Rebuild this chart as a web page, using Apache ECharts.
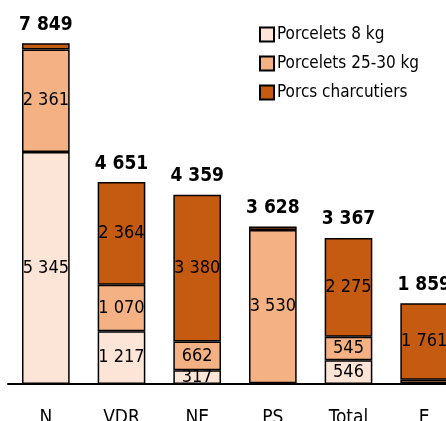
<!DOCTYPE html>
<html>
<head>
<meta charset="utf-8">
<script src="https://cdn.jsdelivr.net/npm/echarts@6/dist/echarts.min.js"></script>
<style>
html, body { margin: 0; padding: 0; background: #fff; }
#chart { width: 446px; height: 421px; }
</style>
</head>
<body>
<div id="chart"></div>
<script>
// régions et effectifs (têtes)
var regions = ['N', 'VDR', 'NE', 'PS', 'Total', 'E'];
var porcelets8 = [5345, 1217, 317, 15, 546, 20];
var porcelets25 = [2361, 1070, 662, 3530, 545, 78];
var porcsCharc = [143, 2364, 3380, 83, 2275, 1761];
var totals = [7849, 4651, 4359, 3628, 3367, 1859];

var FONT = '"DejaVu Sans Condensed", sans-serif';

function fmt(v) {
        return String(v).replace(/\B(?=(\d{3})+(?!\d))/g, ' ');
}

// on masque les étiquettes des segments trop fins
function withLabels(arr, minVal) {
        return arr.map(function (v) {
                return { value: v, label: { show: v >= minVal } };
        });
}

var chart = echarts.init(document.getElementById('chart'));

var insideLabel = {
        show: true,
        position: 'inside',
        color: '#000',
        fontFamily: FONT,
        fontSize: 18,
        formatter: function (p) { return fmt(p.value); }
};

function barStyle(c) {
        return { color: c, borderColor: '#000', borderWidth: 1.5 };
}

var option = {
        animation: false,
        grid: { left: 8, top: 2, width: 454, height: 382, outerBoundsMode: 'none', containLabel: false },
        legend: {
                data: ['Porcelets 8 kg', 'Porcelets 25-30 kg', 'Porcs charcutiers'],
                orient: 'vertical',
                left: 254,
                top: 21,
                itemWidth: 14,
                itemHeight: 14,
                itemGap: 12,
                icon: 'rect',
                textStyle: { fontFamily: FONT, fontSize: 17, color: '#000', padding: [0, 0, 0, -2] }
        },
        xAxis: {
                type: 'category',
                data: regions,
                axisLine: { lineStyle: { color: '#000', width: 2 } },
                axisTick: { show: false },
                axisLabel: { color: '#000', fontFamily: FONT, fontSize: 19, margin: 25 }
        },
        yAxis: {
                type: 'value',
                min: 0,
                max: 8800,
                show: false,
                splitLine: { show: false }
        },
        series: [
                {
                        name: 'Porcelets 8 kg',
                        type: 'bar',
                        stack: 'a',
                        barWidth: '63%',
                        itemStyle: barStyle('#FCE4D6'),
                        label: insideLabel,
                        data: withLabels(porcelets8, 300)
                },
                {
                        name: 'Porcelets 25-30 kg',
                        type: 'bar',
                        stack: 'a',
                        itemStyle: barStyle('#F4B183'),
                        label: insideLabel,
                        data: withLabels(porcelets25, 300)
                },
                {
                        name: 'Porcs charcutiers',
                        type: 'bar',
                        stack: 'a',
                        itemStyle: barStyle('#C55A11'),
                        label: insideLabel,
                        data: withLabels(porcsCharc, 300)
                },
                {
                        // totaux au-dessus des barres
                        name: 'total',
                        type: 'bar',
                        stack: 'a',
                        silent: true,
                        itemStyle: { color: 'transparent' },
                        label: {
                                show: true,
                                position: 'top',
                                distance: 9,
                                color: '#000',
                                fontFamily: FONT,
                                fontWeight: 'bold',
                                fontSize: 19,
                                formatter: function (p) { return fmt(totals[p.dataIndex]); }
                        },
                        data: regions.map(function () { return 0; })
                }
        ]
};

chart.setOption(option);
</script>
</body>
</html>
